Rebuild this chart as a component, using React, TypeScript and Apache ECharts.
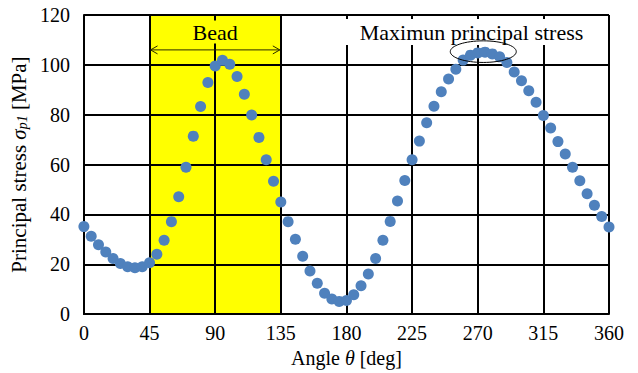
import React, { useEffect, useRef } from "react";
import * as echarts from "echarts";

const angles = [
  0, 5, 10, 15, 20, 25, 30, 35, 40, 45, 50, 55, 60, 65, 70, 75, 80, 85, 90, 95,
  100, 105, 110, 115, 120, 125, 130, 135, 140, 145, 150, 155, 160, 165, 170, 175,
  180, 185, 190, 195, 200, 205, 210, 215, 220, 225, 230, 235, 240, 245, 250, 255,
  260, 265, 270, 275, 280, 285, 290, 295, 300, 305, 310, 315, 320, 325, 330, 335,
  340, 345, 350, 355, 360,
];
const stress = [
  35.1, 31.2, 27.8, 24.9, 22.3, 20.3, 19.0, 18.6, 19.0, 20.6, 24.0, 29.6, 37.1, 47.1,
  58.9, 71.4, 83.3, 92.9, 99.5, 101.8, 100.2, 95.3, 88.2, 79.9, 70.9, 61.9, 53.3, 45.0,
  37.1, 30.0, 23.2, 17.3, 12.4, 8.4, 6.1, 5.1, 5.5, 7.8, 11.4, 16.1, 22.3, 29.6, 37.2,
  45.4, 53.6, 61.9, 69.4, 76.8, 83.4, 89.2, 94.3, 98.2, 101.9, 103.9, 104.8, 105.1,
  104.4, 103.2, 100.9, 97.1, 93.6, 89.6, 85.0, 79.7, 74.7, 69.2, 64.2, 58.9, 53.5,
  48.3, 43.7, 39.2, 34.9,
];
const beadRange = [45, 135];
const beadLabel = "Bead";
const beadArrowY = 106;
const peakLabel = "Maximun principal stress";
const peakCenter = [273.8, 105.3];
const xName = "Angle ";
const yName = "Principal stress ";

const FONT = "Liberation Serif, Times New Roman, serif";

export default function App() {
  const ref = useRef<HTMLDivElement>(null);
  useEffect(() => {
    const chart = echarts.init(ref.current!, null, { renderer: "svg" });
    chart.setOption({
      animation: false,
      backgroundColor: "#ffffff",
      textStyle: { fontFamily: FONT },
      grid: { left: 83, right: 29, top: 15, bottom: 55 },
      xAxis: {
        type: "value",
        min: 0,
        max: 360,
        interval: 45,
        z: 3,
        axisLine: { show: true, onZero: false, lineStyle: { color: "#000", width: 2 } },
        axisTick: { show: false },
        splitLine: { show: true, lineStyle: { color: "#000", width: 2 } },
        axisLabel: { color: "#000", fontFamily: FONT, fontSize: 20, margin: 9 },
        name: `{a|${xName}}{i|θ}{a| [deg]}`,
        nameLocation: "middle",
        nameGap: 32,
        nameTextStyle: {
          rich: {
            a: { fontFamily: FONT, fontSize: 20, color: "#000" },
            i: { fontFamily: FONT, fontSize: 20, fontStyle: "italic", color: "#000" },
          },
        },
      },
      yAxis: {
        type: "value",
        min: 0,
        max: 120,
        interval: 20,
        z: 3,
        axisLine: { show: true, lineStyle: { color: "#000", width: 2 } },
        axisTick: { show: false },
        splitLine: { show: true, lineStyle: { color: "#000", width: 2 } },
        axisLabel: { color: "#000", fontFamily: FONT, fontSize: 20, margin: 14 },
        name: `{a|${yName}}{i|σ}{s|p1}{a| [MPa]}`,
        nameLocation: "middle",
        nameGap: 50,
        nameTextStyle: {
          rich: {
            a: { fontFamily: FONT, fontSize: 21, color: "#000" },
            i: { fontFamily: FONT, fontSize: 21, fontStyle: "italic", color: "#000" },
            s: {
              fontFamily: FONT,
              fontSize: 14,
              fontStyle: "italic",
              color: "#000",
              verticalAlign: "bottom",
            },
          },
        },
      },
      series: [
        {
          type: "scatter",
          data: [],
          z: 1,
          silent: true,
          markArea: {
            silent: true,
            z: 1,
            itemStyle: { color: "#FFFF00", opacity: 1 },
            data: [[{ xAxis: beadRange[0] }, { xAxis: beadRange[1] }]],
          },
        },
        {
          type: "scatter",
          z: 5,
          symbolSize: 11,
          itemStyle: { color: "#4F81BD", opacity: 1 },
          data: angles.map((a, i) => [a, stress[i]]),
        },
      ],
    });

    const px = (x: number, y: number) =>
      chart.convertToPixel({ gridIndex: 0 }, [x, y]) as number[];
    const a0 = px(beadRange[0], beadArrowY);
    const a1 = px(beadRange[1], beadArrowY);
    const mid = px((beadRange[0] + beadRange[1]) / 2, 120);
    const pc = px(peakCenter[0], peakCenter[1]);
    const arrowColor = "#2a2a00";
    chart.setOption({
      graphic: [
        {
          type: "line",
          z: 10,
          shape: { x1: a0[0] + 1, y1: a0[1], x2: a1[0] - 1, y2: a1[1] },
          style: { stroke: arrowColor, lineWidth: 1 },
        },
        {
          type: "polyline",
          z: 10,
          shape: { points: [[a0[0] + 8, a0[1] - 4], [a0[0] + 1, a0[1]], [a0[0] + 8, a0[1] + 4]] },
          style: { stroke: arrowColor, lineWidth: 1, fill: null },
        },
        {
          type: "polyline",
          z: 10,
          shape: { points: [[a1[0] - 8, a1[1] - 4], [a1[0] - 1, a1[1]], [a1[0] - 8, a1[1] + 4]] },
          style: { stroke: arrowColor, lineWidth: 1, fill: null },
        },
        {
          type: "text",
          z: 10,
          x: mid[0],
          y: 32,
          style: {
            text: beadLabel,
            fontFamily: FONT,
            fontSize: 22,
            fill: "#000",
            align: "center",
            verticalAlign: "middle",
            backgroundColor: "#FFFF00",
            padding: [1, 4, 0, 4],
          },
        },
        {
          type: "text",
          z: 10,
          x: 471,
          y: 32,
          style: {
            text: peakLabel,
            fontFamily: FONT,
            fontSize: 22,
            fill: "#000",
            align: "center",
            verticalAlign: "middle",
            backgroundColor: "#ffffff",
            padding: [1, 15, 3, 16],
          },
        },
        {
          type: "ellipse",
          z: 10,
          shape: { cx: pc[0], cy: pc[1], rx: 33, ry: 10.8 },
          style: { stroke: "#000", lineWidth: 1, fill: null },
        },
      ],
    });

    return () => chart.dispose();
  }, []);
  return (
    <div
      ref={ref}
      style={{ position: "absolute", left: 0, top: 0, width: 638, height: 373 }}
    />
  );
}
